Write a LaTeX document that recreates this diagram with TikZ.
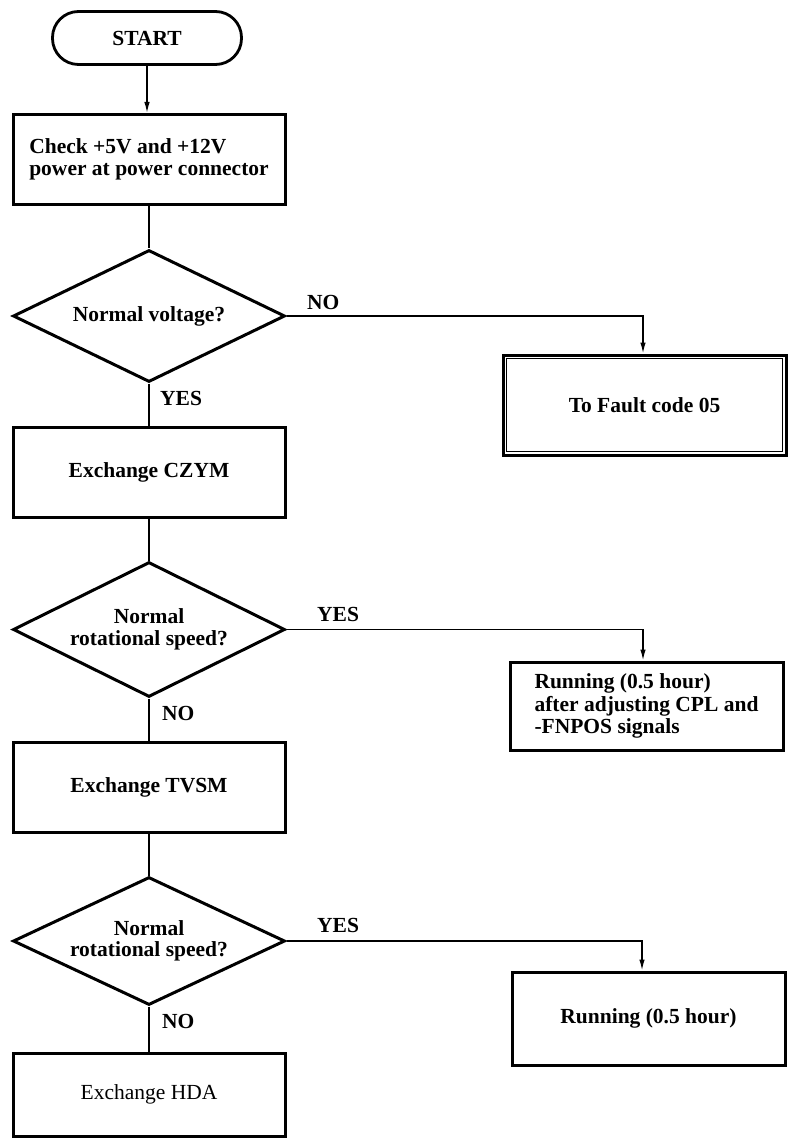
\documentclass[tikz,border=0pt]{standalone}
\usepackage{fontspec}
\setmainfont{Liberation Serif}
\usetikzlibrary{shapes.geometric,arrows.meta}
\begin{document}
\begin{tikzpicture}[x=1pt,y=-1pt,
  every node/.style={font=\fontsize{21.5}{21.5}\selectfont\bfseries},
  startbox/.style={draw,line width=2.8pt,rectangle,rounded corners=26pt,
    minimum width=189pt,minimum height=53pt,inner sep=0pt},
  stepbox/.style={draw,line width=3pt,rectangle,inner sep=0pt,
    minimum width=272pt,minimum height=90pt,align=center},
  endbox/.style={draw,line width=3pt,rectangle,inner sep=0pt,
    minimum width=273pt,align=left},
  decision/.style={draw,line width=3pt,diamond,aspect=2,inner sep=0pt,
    minimum width=272pt,minimum height=132pt,align=center},
  conn/.style={line width=1.4pt},
  arrowed/.style={-{Latex[length=11pt,width=5.5pt]}},
  lbl/.style={anchor=west,inner sep=0pt}]
\useasboundingbox (0,0) rectangle (787,1139);

% main column
\node[startbox] (start) at (147,38) {START};
\node[stepbox,align=left] (check) at (149,159.5) {Check +5V and +12V\\[1pt]power at power connector};
\node[decision] (d1) at (149,316) {Normal voltage?};
\node[stepbox] (czym) at (149,472.5) {Exchange CZYM};
\node[decision,minimum height=135pt] (d2) at (149,629.5) {Normal\\rotational speed?};
\node[stepbox] (tvsm) at (149,787.5) {Exchange TVSM};
\node[decision,minimum height=128pt] (d3) at (149,941) {Normal\\rotational speed?};
\node[stepbox,minimum height=83pt,font=\fontsize{21.5}{21.5}\selectfont] (hda) at (149,1094.5) {Exchange HDA};

% right-hand outcomes
\node[stepbox,minimum width=283pt,minimum height=100pt] (fault) at (644.5,405) {To Fault code 05};
\draw[line width=1.5pt] ([shift={(5,5)}]fault.north west) rectangle ([shift={(-5,-5)}]fault.south east);
\node[endbox,minimum height=88pt] (run1) at (646.5,706) {\raisebox{-4pt}{\shortstack[l]{Running (0.5 hour)\\after adjusting CPL and\\-FNPOS signals}}};
\node[endbox,minimum height=93pt,align=center] (run2) at (648.5,1018.5) {Running (0.5 hour)};

% connectors
\draw[conn,arrowed] (start.south) -- (start.south |- check.north);
\draw[conn] (check.south) -- (d1.north);
\draw[conn] (d1.south) -- (czym.north);
\draw[conn] (czym.south) -- (d2.north);
\draw[conn] (d2.south) -- (tvsm.north);
\draw[conn] (tvsm.south) -- (d3.north);
\draw[conn] (d3.south) -- (hda.north);
\draw[conn,arrowed] (d1.east) -| ([xshift=-1.5pt]fault.north);
\draw[conn,arrowed] (d2.east) -| ([xshift=-3.5pt]run1.north);
\draw[conn,arrowed] (d3.east) -| ([xshift=-6.5pt]run2.north);

% branch labels
\node[lbl] (no1) at (307,302) {NO};
\node[lbl] (yes1) at (160,398) {YES};
\node[lbl] (yes2) at (317,614) {YES};
\node[lbl] (no2) at (162,713) {NO};
\node[lbl] (yes3) at (317,925) {YES};
\node[lbl] (no3) at (162,1021) {NO};
\end{tikzpicture}
\end{document}
